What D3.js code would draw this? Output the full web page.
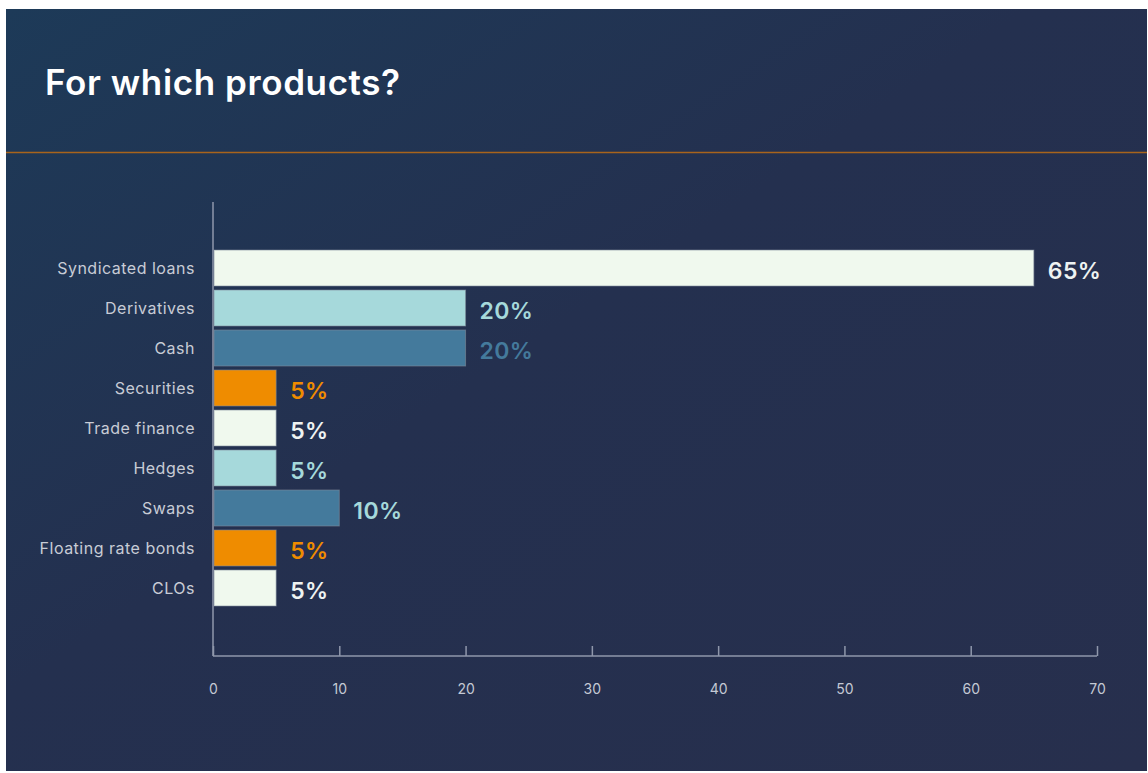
<!DOCTYPE html>
<html>
<head>
<meta charset="utf-8">
<script src="https://cdn.jsdelivr.net/npm/d3@7"></script>
<style>
  html, body { margin: 0; padding: 0; background: #ffffff; }
  svg { display: block; }
</style>
</head>
<body>
<svg id="chart" width="1148" height="773"></svg>
<script>
const categories = ["Syndicated loans", "Derivatives", "Cash", "Securities", "Trade finance", "Hedges", "Swaps", "Floating rate bonds", "CLOs"];
const values = [65, 20, 20, 5, 5, 5, 10, 5, 5];
const barColors = ["#f0f9ee", "#a6d9db", "#447a9c", "#ef8c00", "#f0f9ee", "#a6d9db", "#447a9c", "#ef8c00", "#f0f9ee"];
const labelColors = ["#eef3f2", "#a6d9db", "#447a9c", "#ef8c00", "#eef3f2", "#a6d9db", "#a6d9db", "#ef8c00", "#eef3f2"];
const xTicks = [0, 10, 20, 30, 40, 50, 60, 70];
const title = "For which products?";

const svg = d3.select("#chart");

const defs = svg.append("defs");
const grad = defs.append("linearGradient").attr("id", "bg")
  .attr("x1", "0%").attr("y1", "0%").attr("x2", "100%").attr("y2", "100%");
grad.append("stop").attr("offset", "0%").attr("stop-color", "#1d3a58");
grad.append("stop").attr("offset", "45%").attr("stop-color", "#24304f");
grad.append("stop").attr("offset", "100%").attr("stop-color", "#272f4d");

svg.append("rect").attr("x", 6).attr("y", 9).attr("width", 1141).attr("height", 762).attr("fill", "url(#bg)");

svg.append("text").attr("x", 45).attr("y", 95).text(title)
  .attr("fill", "#ffffff").attr("font-family", "Inter, 'Open Sans', sans-serif")
  .attr("font-size", 35).attr("font-weight", 600).attr("letter-spacing", 0.6);

svg.append("line").attr("x1", 6).attr("x2", 1147).attr("y1", 152.5).attr("y2", 152.5)
  .attr("stroke", "#a8641c").attr("stroke-width", 1.5);

const x = d3.scaleLinear().domain([0, 70]).range([213, 1097]);
const y = d3.scaleBand().domain(categories).range([248, 608]).paddingInner(0.1).paddingOuter(0.05);

// Axes
const axisColor = "#8f97ab";
svg.append("line").attr("x1", 213).attr("x2", 213).attr("y1", 202).attr("y2", 656)
  .attr("stroke", axisColor).attr("stroke-width", 1.5);
svg.append("line").attr("x1", 213).attr("x2", 1097).attr("y1", 656).attr("y2", 656)
  .attr("stroke", axisColor).attr("stroke-width", 1.5);

const xAxis = svg.append("g").attr("transform", "translate(0,656)")
  .call(d3.axisBottom(x).tickValues(xTicks).tickSize(-10).tickPadding(28).tickFormat(d3.format("d")));
xAxis.select(".domain").remove();
xAxis.selectAll(".tick line").attr("stroke", axisColor).attr("stroke-width", 1.5);
xAxis.selectAll(".tick text").attr("fill", "#c4c9d4").attr("font-size", 14)
  .attr("font-family", "Inter, 'Open Sans', sans-serif");

// Category labels
svg.append("g").selectAll("text").data(categories).join("text")
  .attr("x", 195).attr("y", d => y(d) + y.bandwidth() / 2)
  .attr("dy", "0.35em").attr("text-anchor", "end")
  .attr("fill", "#c8ccd6").attr("font-size", 16).attr("letter-spacing", 0.5)
  .attr("font-family", "Inter, 'Open Sans', sans-serif")
  .text(d => d);

// Bars
svg.append("g").selectAll("rect").data(categories).join("rect")
  .attr("x", x(0) + 1).attr("y", (d) => y(d))
  .attr("width", (d, i) => x(values[i]) - x(0) - 1)
  .attr("height", y.bandwidth())
  .attr("fill", (d, i) => barColors[i])
  .attr("stroke", "#7f8a99").attr("stroke-width", 1).attr("stroke-opacity", 0.6);

// Value labels
svg.append("g").selectAll("text").data(categories).join("text")
  .attr("x", (d, i) => x(values[i]) + 14)
  .attr("y", d => y(d) + y.bandwidth() / 2 + 2)
  .attr("dy", "0.38em")
  .attr("fill", (d, i) => labelColors[i])
  .attr("font-size", 23).attr("font-weight", 600).attr("letter-spacing", 0.4)
  .attr("font-family", "Inter, 'Open Sans', sans-serif")
  .text((d, i) => values[i] + "%");
</script>
</body>
</html>
